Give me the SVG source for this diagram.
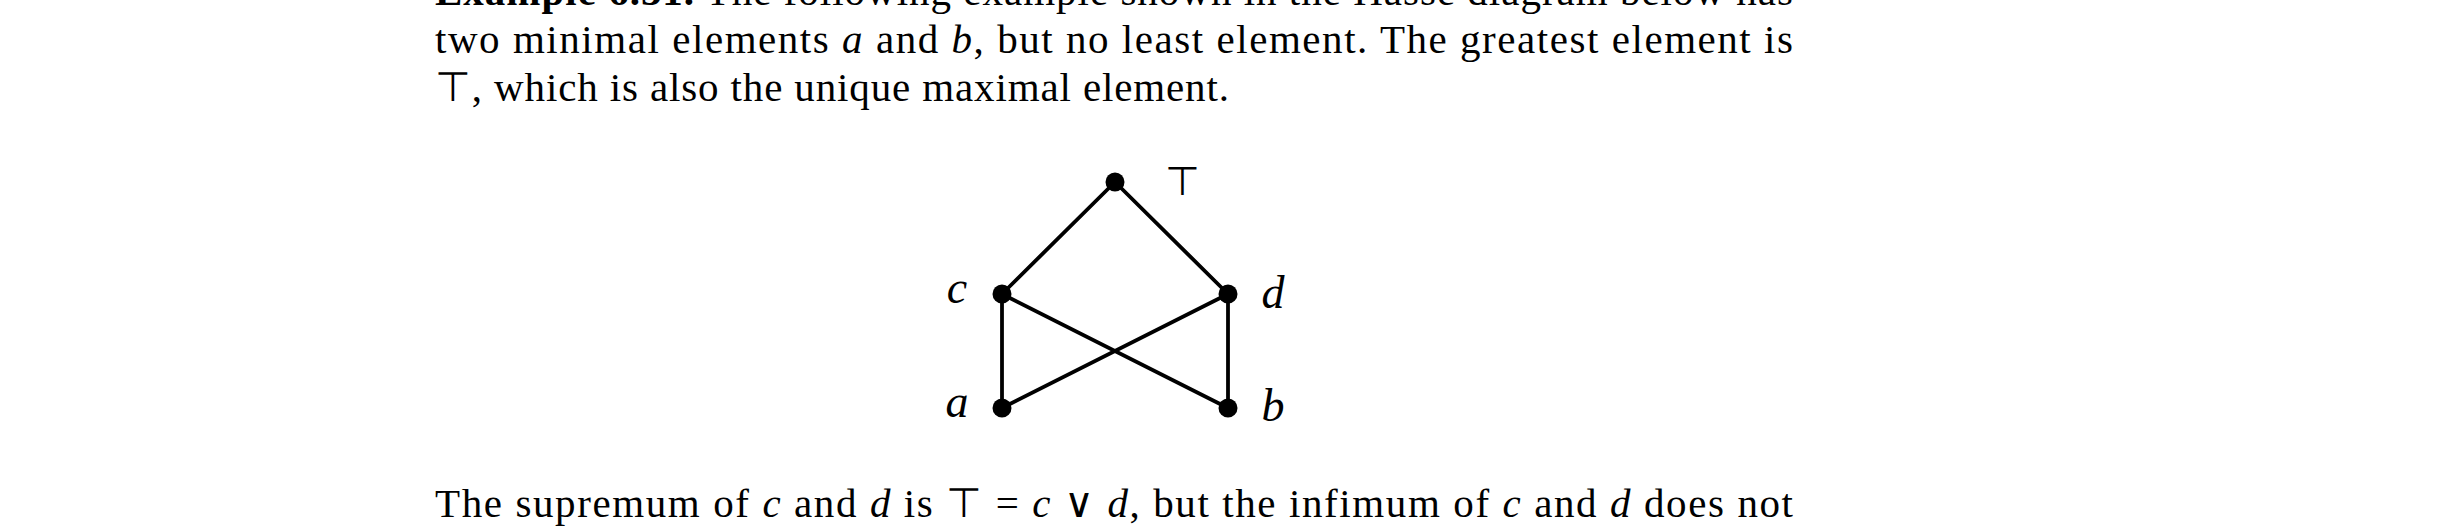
<svg xmlns="http://www.w3.org/2000/svg" width="2448" height="528" viewBox="0 0 2448 528">
<style>
.t{font-family:"Liberation Serif","DejaVu Serif",serif;font-size:41px;fill:#000}
.b{font-weight:bold}
.i{font-style:italic}
.s{font-family:"DejaVu Sans",sans-serif;font-weight:200}
.v{font-family:"Noto Sans","DejaVu Serif",serif;font-weight:300}
.e{stroke:#000;stroke-width:3.8;fill:none;stroke-linecap:round}
.n{fill:#000}
.l{font-family:"Liberation Serif","DejaVu Serif",serif;font-size:46px;font-style:italic;fill:#000;text-anchor:middle}
</style>
<rect width="2448" height="528" fill="#fff"/>
<g id="text">
<text class="t" x="435" y="5" textLength="1358" lengthAdjust="spacing"><tspan class="b">Example 6.31.</tspan> The following example shown in the Hasse diagram below has</text>
<text class="t" x="435" y="53" textLength="1358" lengthAdjust="spacing">two minimal elements <tspan class="i">a</tspan> and <tspan class="i">b</tspan>, but no least element. The greatest element is</text>
<text class="t" x="435" y="101" textLength="794" lengthAdjust="spacing"><tspan class="s">⊤</tspan>, which is also the unique maximal element.</text>
<text class="t" x="435" y="517" textLength="1358" lengthAdjust="spacing">The supremum of <tspan class="i">c</tspan> and <tspan class="i">d</tspan> is <tspan class="s">⊤</tspan> = <tspan class="i">c</tspan> <tspan class="v">∨</tspan> <tspan class="i">d</tspan>, but the infimum of <tspan class="i">c</tspan> and <tspan class="i">d</tspan> does not</text>
</g>
<g id="connectors">
<line class="e" x1="1115" y1="182" x2="1002" y2="294"/>
<line class="e" x1="1115" y1="182" x2="1228" y2="294"/>
<line class="e" x1="1002" y1="294" x2="1002" y2="408"/>
<line class="e" x1="1228" y1="294" x2="1228" y2="408"/>
<line class="e" x1="1002" y1="294" x2="1228" y2="408"/>
<line class="e" x1="1228" y1="294" x2="1002" y2="408"/>
</g>
<g id="node-top">
<circle class="n" cx="1115" cy="182" r="9.5"/>
<text x="1182" y="195" font-family="DejaVu Sans,sans-serif" font-weight="200" font-size="40" text-anchor="middle">⊤</text>
</g>
<g id="node-c">
<circle class="n" cx="1002" cy="294" r="9.5"/>
<text class="l" x="957" y="303">c</text>
</g>
<g id="node-d">
<circle class="n" cx="1228" cy="294" r="9.5"/>
<text class="l" x="1273" y="308">d</text>
</g>
<g id="node-a">
<circle class="n" cx="1002" cy="408" r="9.5"/>
<text class="l" x="957" y="417">a</text>
</g>
<g id="node-b">
<circle class="n" cx="1228" cy="408" r="9.5"/>
<text class="l" x="1273" y="421">b</text>
</g>
</svg>
